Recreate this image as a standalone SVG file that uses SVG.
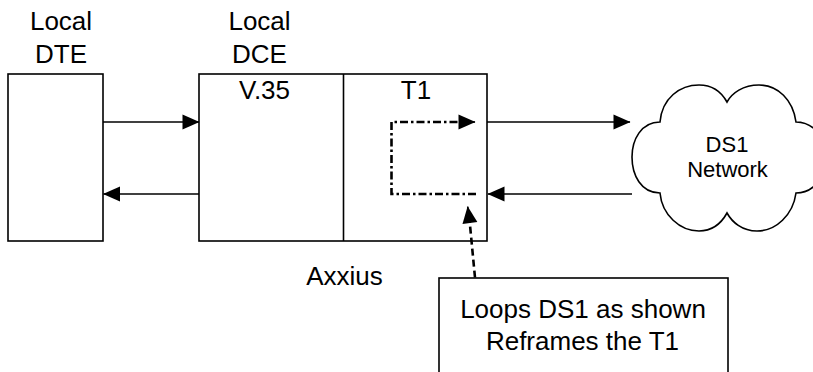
<svg xmlns="http://www.w3.org/2000/svg" width="813" height="372" viewBox="0 0 813 372">
<style>
text{font-family:"Liberation Sans",Arial,Helvetica,sans-serif;font-size:26px;fill:#000;text-anchor:middle}
.box{fill:#fff;stroke:#000;stroke-width:1.6}
.line{fill:none;stroke:#000;stroke-width:1.6}
.dashdot{fill:none;stroke:#000;stroke-width:2.6;stroke-dasharray:8 3 2.5 3}
.dash{fill:none;stroke:#000;stroke-width:2.6;stroke-dasharray:7 4}
.small{font-size:22px}
</style>
<defs>
<marker id="ah" markerUnits="userSpaceOnUse" markerWidth="17" markerHeight="16" refX="16.5" refY="8" orient="auto" overflow="visible">
<path d="M0,0.5 L17,8 L0,15.5 Z" fill="#000"/>
</marker>
</defs>
<rect width="813" height="372" fill="#fff"/>
<g id="dte">
<rect class="box" x="8" y="74" width="95" height="167"/>
<text x="61" y="29.5">Local</text>
<text x="61" y="62.5">DTE</text>
</g>
<g id="dce">
<rect class="box" x="199" y="74" width="288" height="167"/>
<line class="line" x1="343.5" y1="74" x2="343.5" y2="241"/>
<text x="259.5" y="29.5">Local</text>
<text x="259.5" y="62.5">DCE</text>
<text x="264.5" y="99">V.35</text>
<text x="416" y="99">T1</text>
<text x="344.5" y="285">Axxius</text>
</g>
<g id="network">
<path class="line" d="M660,122 C662,98 680,85 699,85 C713,85 722,93 727,102 C732,93 743,85 759,85 C778,85 793,100 796,122 C815,122 826,140 826,157 C826,175 815,193 796,193 C793,215 776,231 757,231 C742,231 732,222 727,213 C722,222 713,231 699,231 C680,231 662,215 660,193 C641,193 632,175 632,157 C632,140 641,122 660,122 Z"/>
<text class="small" x="727" y="152.3">DS1</text>
<text class="small" x="727.5" y="176.5">Network</text>
</g>
<g id="callout">
<rect class="box" x="439" y="278" width="289" height="110"/>
<text x="583" y="317.5">Loops DS1 as shown</text>
<text x="582.5" y="349.5">Reframes the T1</text>
</g>
<g id="connectors">
<line class="line" x1="103" y1="122" x2="199" y2="122" marker-end="url(#ah)"/>
<line class="line" x1="199" y1="194" x2="103.5" y2="194" marker-end="url(#ah)"/>
<line class="line" x1="487" y1="122" x2="630" y2="122" marker-end="url(#ah)"/>
<line class="line" x1="632" y1="194" x2="488" y2="194" marker-end="url(#ah)"/>
<path class="dashdot" d="M476,194 L391.5,194 L391.5,122 L460,122"/>
<line class="line" x1="460" y1="122" x2="475" y2="122" marker-end="url(#ah)"/>
<path class="dash" d="M475,277.5 L469.5,220"/>
<line class="line" x1="469.5" y1="220" x2="467.7" y2="206.7" marker-end="url(#ah)"/>
</g>
</svg>
